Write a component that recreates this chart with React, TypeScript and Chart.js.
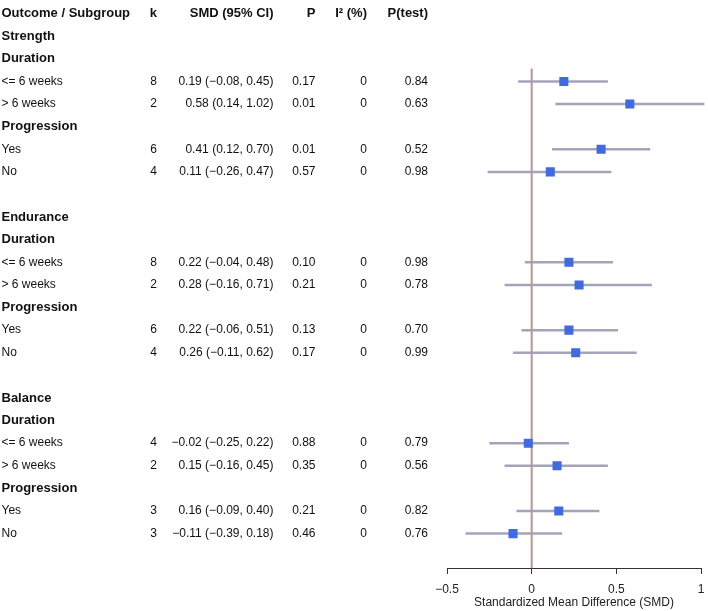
import React, { useEffect, useRef } from "react";
import { Chart, registerables } from "chart.js";

Chart.register(...registerables);

// ---- data ----
const outcomes = ["Strength", "Endurance", "Balance"];
const subgroupHeads = ["Duration", "Progression"];
const subgroupLevels = [
  ["<= 6 weeks", "> 6 weeks"],
  ["Yes", "No"],
];
// 12 rows: outcome x (Duration <=6, >6, Progression Yes, No)
const kValues = [8, 2, 6, 4, 8, 2, 6, 4, 4, 2, 3, 3];
const smdValues = [0.19, 0.58, 0.41, 0.11, 0.22, 0.28, 0.22, 0.26, -0.02, 0.15, 0.16, -0.11];
const lowerValues = [-0.08, 0.14, 0.12, -0.26, -0.04, -0.16, -0.06, -0.11, -0.25, -0.16, -0.09, -0.39];
const upperValues = [0.45, 1.02, 0.7, 0.47, 0.48, 0.71, 0.51, 0.62, 0.22, 0.45, 0.4, 0.18];
const pValues = ["0.17", "0.01", "0.01", "0.57", "0.10", "0.21", "0.13", "0.17", "0.88", "0.35", "0.21", "0.46"];
const i2Values = [0, 0, 0, 0, 0, 0, 0, 0, 0, 0, 0, 0];
const pTestValues = ["0.84", "0.63", "0.52", "0.98", "0.98", "0.78", "0.70", "0.99", "0.79", "0.56", "0.82", "0.76"];
const headerLabels = ["Outcome / Subgroup", "k", "SMD (95% CI)", "P", "I\u00B2 (%)", "P(test)"];
const xTickValues = [-0.5, 0, 0.5, 1];
const xTickLabels = ["\u22120.5", "0", "0.5", "1"];
const xTitle = "Standardized Mean Difference (SMD)";

// ---- layout helpers ----
const ROW_MIN = -0.32;
const ROW_MAX = 24.53;
const ZERO_LINE_TOP = 2.43;

const fmt = (v: number) => (v < 0 ? "\u2212" : "") + Math.abs(v).toFixed(2);

type TextRow = { row: number; label: string; bold: boolean; idx: number };
const textRows: TextRow[] = [];
const dataRowIndex: number[] = [];
outcomes.forEach((o, oi) => {
  const base = 1 + oi * 8;
  textRows.push({ row: base, label: o, bold: true, idx: -1 });
  subgroupHeads.forEach((h, gi) => {
    const hr = base + 1 + gi * 3;
    textRows.push({ row: hr, label: h, bold: true, idx: -1 });
    subgroupLevels[gi].forEach((lv, li) => {
      const j = oi * 4 + gi * 2 + li;
      const r = hr + 1 + li;
      dataRowIndex[j] = r;
      textRows.push({ row: r, label: lv, bold: false, idx: j });
    });
  });
});

const FONT = '"Liberation Sans", Arial, Helvetica, sans-serif';
const TEXT_COLOR = "#111";
const COL = { label: 1.5, k: 157, smd: 273.5, p: 315.5, i2: 367, pt: 428 };

const tablePlugin = {
  id: "forestTable",
  afterDraw(chart: any) {
    const ctx = chart.ctx as CanvasRenderingContext2D;
    const y = chart.scales.y;
    ctx.save();
    ctx.fillStyle = TEXT_COLOR;
    ctx.textBaseline = "middle";
    // header
    const hy = y.getPixelForValue(0);
    ctx.font = `bold 13px ${FONT}`;
    ctx.textAlign = "left";
    ctx.fillText(headerLabels[0], COL.label, hy);
    ctx.textAlign = "right";
    ctx.fillText(headerLabels[1], COL.k, hy);
    ctx.fillText(headerLabels[2], COL.smd, hy);
    ctx.fillText(headerLabels[3], COL.p, hy);
    ctx.fillText(headerLabels[4], COL.i2, hy);
    ctx.fillText(headerLabels[5], COL.pt, hy);

    textRows.forEach((tr) => {
      const py = y.getPixelForValue(tr.row);
      ctx.textAlign = "left";
      ctx.font = tr.bold ? `bold 13px ${FONT}` : `12px ${FONT}`;
      ctx.fillText(tr.label, COL.label, py);
      if (tr.idx >= 0) {
        const j = tr.idx;
        ctx.font = `12px ${FONT}`;
        ctx.textAlign = "right";
        ctx.fillText(String(kValues[j]), COL.k, py);
        ctx.fillText(
          `${fmt(smdValues[j])} (${fmt(lowerValues[j])}, ${fmt(upperValues[j])})`,
          COL.smd,
          py
        );
        ctx.fillText(pValues[j], COL.p, py);
        ctx.fillText(String(i2Values[j]), COL.i2, py);
        ctx.fillText(pTestValues[j], COL.pt, py);
      }
    });
    ctx.restore();
  },
};

export default function App() {
  const ref = useRef<HTMLCanvasElement | null>(null);

  useEffect(() => {
    if (!ref.current) return;
    const ciColor = "#a3a4ba";
    const ciDatasets = smdValues.map((_, j) => ({
      type: "line" as const,
      data: [
        { x: lowerValues[j], y: dataRowIndex[j] },
        { x: upperValues[j], y: dataRowIndex[j] },
      ],
      borderColor: ciColor,
      borderWidth: 2.5,
      pointRadius: 0,
      clip: false as any,
      order: 2,
    }));
    const chart = new Chart(ref.current, {
      type: "scatter",
      data: {
        datasets: [
          {
            type: "scatter",
            data: smdValues.map((v, j) => ({ x: v, y: dataRowIndex[j] })),
            pointStyle: "rect",
            pointRadius: 6.4,
            pointBorderWidth: 0,
            backgroundColor: "#4169e1",
            borderColor: "#4169e1",
            order: 0,
          } as any,
          {
            type: "line",
            data: [
              { x: 0, y: ZERO_LINE_TOP },
              { x: 0, y: ROW_MAX },
            ],
            borderColor: "#bf9293",
            borderWidth: 2,
            pointRadius: 0,
            order: 1,
          } as any,
          ...ciDatasets,
        ],
      },
      options: {
        responsive: false,
        animation: false,
        layout: { padding: { left: 447, right: 7, top: 0, bottom: 1 } },
        plugins: {
          legend: { display: false },
          tooltip: { enabled: false },
        },
        scales: {
          x: {
            type: "linear",
            min: -0.5,
            max: 1,
            afterBuildTicks: (axis: any) => {
              axis.ticks = xTickValues.map((v) => ({ value: v }));
            },
            ticks: {
              autoSkip: false,
              maxRotation: 0,
              padding: 3,
              color: "#222",
              font: { family: FONT, size: 12 },
              callback: (v: any) => {
                const i = xTickValues.indexOf(Number(v));
                return i >= 0 ? xTickLabels[i] : "";
              },
            },
            grid: {
              display: true,
              drawOnChartArea: false,
              drawTicks: true,
              tickLength: 11,
              tickBorderDash: [5, 30],
              color: "#333",
              lineWidth: 1,
            },
            border: { display: true, color: "#333", width: 1 },
            title: {
              display: true,
              text: xTitle,
              color: "#222",
              font: { family: FONT, size: 12 },
              padding: { top: -4, bottom: 0 },
            },
          },
          y: {
            type: "linear",
            display: false,
            min: ROW_MIN,
            max: ROW_MAX,
            reverse: true,
          },
        },
      } as any,
      plugins: [tablePlugin],
    });
    return () => chart.destroy();
  }, []);

  return (
    <div style={{ position: "absolute", left: 0, top: 0, width: 708, height: 611, background: "#fff" }}>
      <canvas ref={ref} width={708} height={611} style={{ display: "block", width: 708, height: 611 }} />
    </div>
  );
}
